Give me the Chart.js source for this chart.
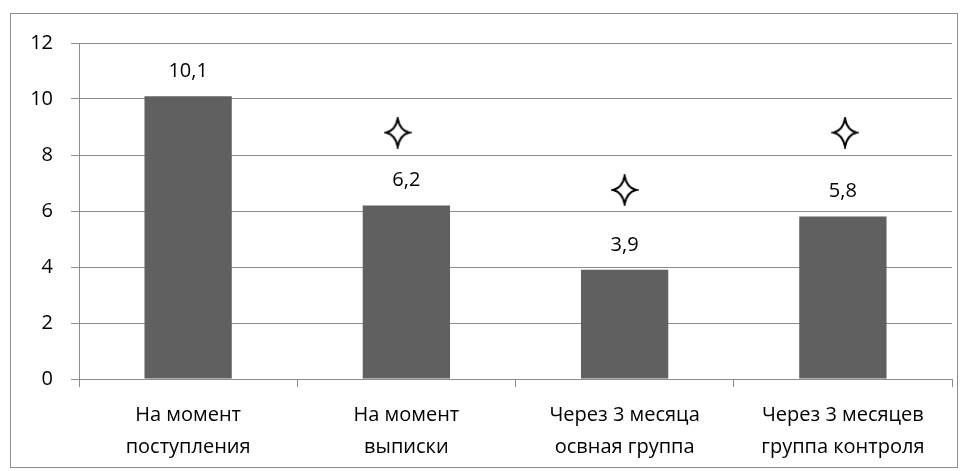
<!DOCTYPE html>
<html>
<head>
<meta charset="utf-8">
<script src="https://cdn.jsdelivr.net/npm/chart.js@4/dist/chart.umd.min.js"></script>
<style>
  html, body { margin: 0; padding: 0; background: #fff; }
  #wrap { position: relative; width: 968px; height: 471px; }
</style>
</head>
<body>
<div id="wrap"><canvas id="c" width="968" height="471"></canvas></div>
<script>
// Categories (two-line labels)
const categories = [
  ['На момент', 'поступления'],
  ['На момент', 'выписки'],
  ['Через 3 месяца', 'освная группа'],
  ['Через 3 месяцев', 'группа контроля']
];
// Bar values
const values = [10.1, 6.2, 3.9, 5.8];
// Significance markers: position along the category axis and height
const markerX = [0.96, 2.0, 3.01];
const markerY = [8.8, 6.75, 8.8];
// Y axis ticks
const yTicks = [0, 2, 4, 6, 8, 10, 12];

const FONT = '"Open Sans", "Noto Sans", sans-serif';
const GRID = '#8c8c8c';

// Four-pointed outline star used as the marker glyph
function makeStar() {
  const cv = document.createElement('canvas');
  cv.width = 28; cv.height = 32;
  const g = cv.getContext('2d');
  const cx = 14, cy = 16, rx = 11.5, ry = 14, k = 2.2;
  g.beginPath();
  g.moveTo(cx, cy - ry);
  g.quadraticCurveTo(cx + k, cy - k, cx + rx, cy);
  g.quadraticCurveTo(cx + k, cy + k, cx, cy + ry);
  g.quadraticCurveTo(cx - k, cy + k, cx - rx, cy);
  g.quadraticCurveTo(cx - k, cy - k, cx, cy - ry);
  g.closePath();
  g.fillStyle = '#fff';
  g.fill();
  g.lineWidth = 2;
  g.strokeStyle = '#000';
  g.stroke();
  return cv;
}
const star = makeStar();

// Outer frame around the whole chart
const framePlugin = {
  id: 'frame',
  beforeDraw(chart) {
    const ctx = chart.ctx;
    ctx.save();
    ctx.strokeStyle = GRID;
    ctx.lineWidth = 1;
    ctx.strokeRect(10.5, 13.5, 947, 454);
    ctx.restore();
  }
};

// Value labels above bars
const valueLabels = {
  id: 'valueLabels',
  afterDatasetsDraw(chart) {
    const ctx = chart.ctx;
    const meta = chart.getDatasetMeta(0);
    ctx.save();
    ctx.font = '20px ' + FONT;
    ctx.fillStyle = '#000';
    ctx.textAlign = 'center';
    ctx.textBaseline = 'middle';
    meta.data.forEach((bar, i) => {
      const txt = values[i].toFixed(1).replace('.', ',');
      ctx.fillText(txt, bar.x, bar.y - 25);
    });
    ctx.restore();
  }
};

new Chart(document.getElementById('c'), {
  data: {
    labels: categories,
    datasets: [
      {
        type: 'bar',
        data: values,
        backgroundColor: '#606060',
        borderWidth: 0,
        grouped: false,
        barPercentage: 0.4,
        categoryPercentage: 1.0,
        xAxisID: 'x',
        order: 2
      },
      {
        type: 'line',
        data: markerX.map((x, i) => ({ x: x, y: markerY[i] })),
        xAxisID: 'xs',
        showLine: false,
        pointStyle: star,
        pointRadius: 14,
        order: 1
      }
    ]
  },
  options: {
    responsive: false,
    animation: false,
    events: [],
    layout: { padding: { left: 10, top: 43, right: 16, bottom: 0 } },
    plugins: { legend: { display: false }, tooltip: { enabled: false } },
    scales: {
      x: {
        type: 'category',
        offset: true,
        grid: {
          offset: true,
          drawOnChartArea: false,
          drawTicks: true,
          tickLength: 8,
          color: GRID
        },
        border: { display: false },
        ticks: {
          color: '#000',
          font: { family: FONT, size: 20, lineHeight: 1.6 },
          padding: 12,
          maxRotation: 0,
          autoSkip: false
        },
        afterFit(s) { s.height = 92; }
      },
      xs: {
        type: 'linear',
        display: false,
        min: -0.5,
        max: 3.5
      },
      y: {
        min: 0,
        max: 12,
        afterBuildTicks(s) { s.ticks = yTicks.map(v => ({ value: v })); },
        grid: { color: GRID, tickLength: 8, lineWidth: 1 },
        border: { color: GRID },
        ticks: {
          color: '#000',
          font: { family: FONT, size: 20 },
          padding: 18
        },
        afterFit(s) { s.width = 69; }
      }
    }
  },
  plugins: [framePlugin, valueLabels]
});
</script>
</body>
</html>
